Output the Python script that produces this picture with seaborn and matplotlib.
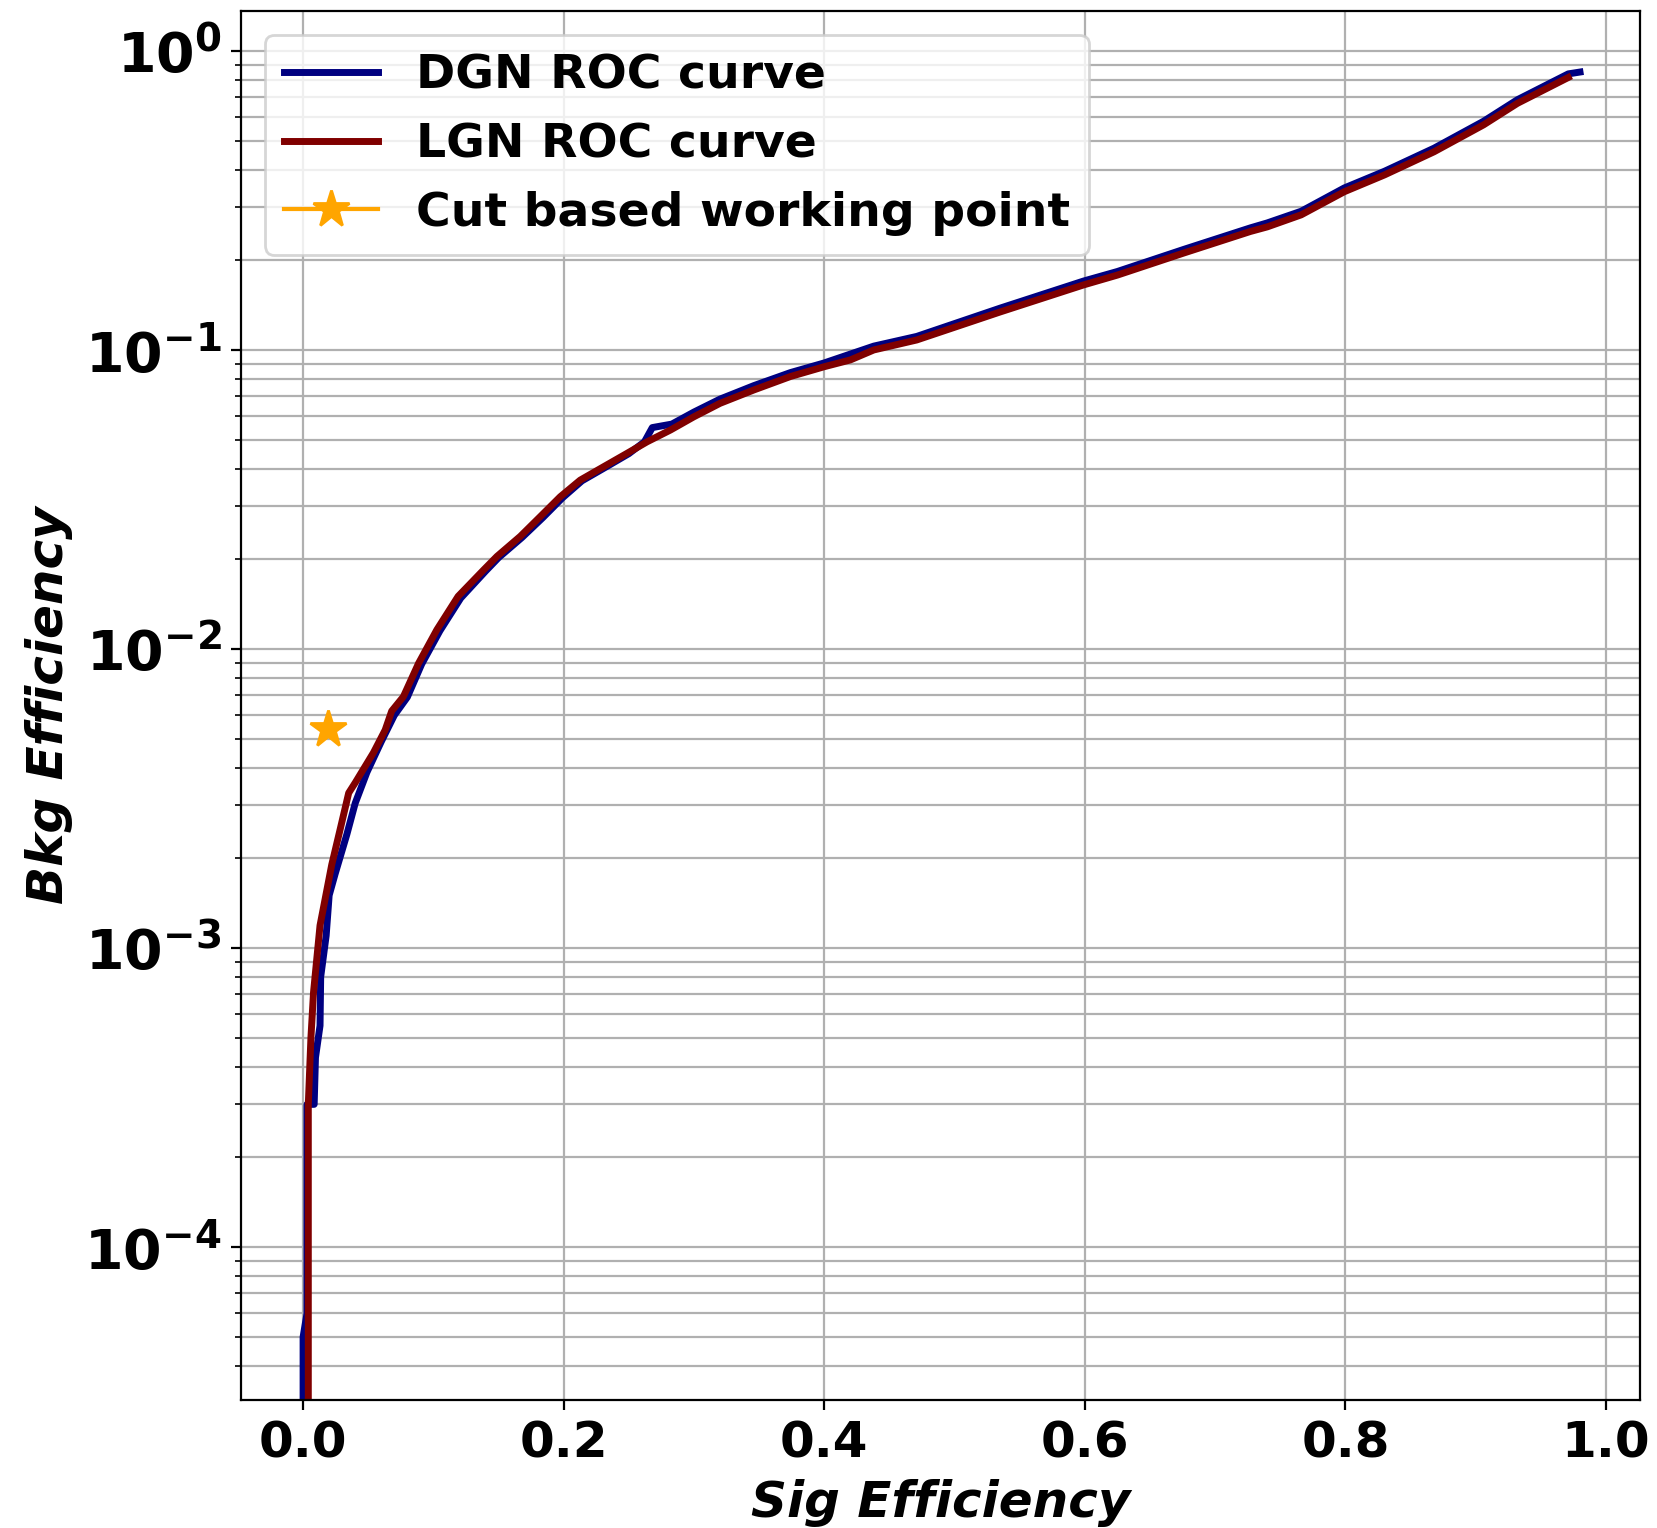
import matplotlib
matplotlib.use("Agg")
import matplotlib.pyplot as plt
import seaborn as sns
import pandas as pd

# ---- data ----
dgn_sig = [0.0, 0.0, 0.003, 0.003, 0.0085, 0.0095, 0.013, 0.0135, 0.0177, 0.020, 0.0246,
           0.0336, 0.040, 0.049, 0.060, 0.070, 0.080, 0.091, 0.105, 0.121, 0.140, 0.150,
           0.168, 0.184, 0.199, 0.214, 0.232, 0.250, 0.262, 0.268, 0.283, 0.300, 0.320,
           0.346, 0.374, 0.400, 0.438, 0.471, 0.535, 0.599, 0.625, 0.676, 0.727, 0.740,
           0.766, 0.799, 0.830, 0.868, 0.906, 0.932, 0.971, 0.980]
dgn_bkg = [1e-5, 5e-5, 6e-5, 3.0e-4, 3.0e-4, 4.3e-4, 5.5e-4, 8.0e-4, 1.1e-3, 1.5e-3, 1.77e-3,
           2.4e-3, 3.05e-3, 3.87e-3, 4.9e-3, 6.0e-3, 6.9e-3, 8.9e-3, 1.15e-2, 1.48e-2, 1.82e-2,
           2.02e-2, 2.36e-2, 2.75e-2, 3.2e-2, 3.65e-2, 4.05e-2, 4.5e-2, 4.93e-2, 5.5e-2, 5.65e-2,
           6.2e-2, 6.85e-2, 7.6e-2, 8.4e-2, 9.05e-2, 0.103, 0.111, 0.138, 0.170, 0.183, 0.217,
           0.256, 0.266, 0.291, 0.348, 0.396, 0.473, 0.582, 0.687, 0.838, 0.850]

lgn_sig = [0.004, 0.004, 0.006, 0.008, 0.013, 0.022, 0.0285, 0.035, 0.040, 0.054, 0.063,
           0.068, 0.077, 0.0886, 0.1027, 0.119, 0.1385, 0.1488, 0.1667, 0.182, 0.1974,
           0.2127, 0.2307, 0.2486, 0.264, 0.282, 0.300, 0.320, 0.346, 0.374, 0.400, 0.420,
           0.438, 0.471, 0.535, 0.599, 0.625, 0.676, 0.727, 0.740, 0.766, 0.799, 0.830,
           0.868, 0.906, 0.932, 0.971]
lgn_bkg = [1e-5, 3.0e-4, 5.0e-4, 7.1e-4, 1.19e-3, 1.9e-3, 2.5e-3, 3.3e-3, 3.57e-3, 4.5e-3,
           5.36e-3, 6.2e-3, 6.93e-3, 8.95e-3, 1.16e-2, 1.5e-2, 1.837e-2, 2.04e-2, 2.38e-2,
           2.77e-2, 3.23e-2, 3.67e-2, 4.07e-2, 4.51e-2, 4.93e-2, 5.4e-2, 5.98e-2, 6.63e-2,
           7.35e-2, 8.15e-2, 8.79e-2, 9.26e-2, 0.100, 0.108, 0.134, 0.165, 0.178, 0.211,
           0.249, 0.258, 0.283, 0.338, 0.385, 0.460, 0.566, 0.668, 0.815]

wp_sig = [0.019]
wp_bkg = [0.0054]

labels = ["DGN ROC curve", "LGN ROC curve", "Cut based working point"]
x_label = "Sig Efficiency"
y_label = "Bkg Efficiency"

# ---- plotting ----
plt.rcParams['font.family'] = ['DejaVu Sans']
fig = plt.figure(figsize=(8.29, 7.64), dpi=200)
ax = fig.add_axes([0.1454, 0.0838, 0.9891 - 0.1454, 0.9928 - 0.0838])

dgn = pd.DataFrame({"sig": dgn_sig, "bkg": dgn_bkg})
lgn = pd.DataFrame({"sig": lgn_sig, "bkg": lgn_bkg})

sns.lineplot(data=dgn, x="sig", y="bkg", sort=False, estimator=None, color="navy",
             linewidth=2.5, label=labels[0], ax=ax)
sns.lineplot(data=lgn, x="sig", y="bkg", sort=False, estimator=None, color="maroon",
             linewidth=2.5, label=labels[1], ax=ax)
ax.plot(wp_sig, wp_bkg, marker="*", color="orange", markersize=14, label=labels[2])

ax.set_yscale("log")
ax.set_xlim(-0.0476, 1.026)
ax.set_ylim(3.08e-5, 1.36)
ax.grid(True, which="both", color="#b0b0b0", linewidth=0.8)
ax.set_axisbelow(True)

ax.set_xlabel(x_label, fontsize=18, fontweight="bold", fontstyle="italic")
ax.set_ylabel(y_label, fontsize=18, fontweight="bold", fontstyle="italic")
ax.tick_params(axis="x", which="major", labelsize=18)
ax.tick_params(axis="y", which="major", labelsize=20)
for lab in ax.get_xticklabels() + ax.get_yticklabels():
    lab.set_fontweight("bold")

leg = ax.legend(loc="upper left", prop={"size": 17, "weight": "bold"})

fig.savefig("out.png", dpi=200)
